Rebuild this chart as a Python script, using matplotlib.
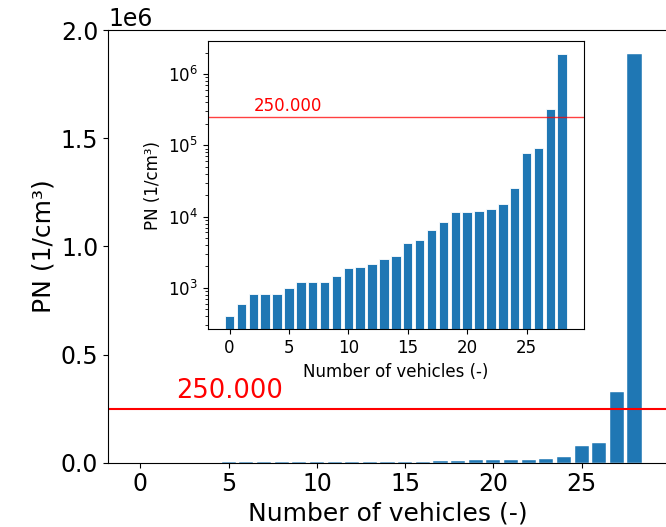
import matplotlib
matplotlib.use('Agg')
import matplotlib.pyplot as plt

# numero de vehiculos y concentracion de particulas (PN)
vehicles = list(range(29))
pn = [400, 600, 810, 810, 810, 1000, 1200, 1200, 1200, 1470,
      1900, 1990, 2190, 2520, 2780, 4230, 4760, 6430, 8330, 11500,
      11600, 11900, 12900, 14900, 25500, 78800, 90800, 326000, 1890000]
limit = 250000
limit_label = '250.000'
yticks_main = [0, 500000, 1000000, 1500000, 2000000]

fig = plt.figure(figsize=(6.66, 5.27), dpi=100)

# grafica principal (lineal)
ax = fig.add_axes([0.1622, 0.1220, 0.8393, 0.8210])
ax.bar(vehicles, pn, color='#1f77b4', edgecolor='white', linewidth=0.3)
ax.axhline(limit, color='red', linewidth=1.5)
ax.text(2, 300000, limit_label, color='red', fontsize=18.5)
ax.set_ylim(0, 2000000)
ax.set_yticks(yticks_main)
ax.set_xlabel('Number of vehicles (-)', fontsize=18)
ax.set_ylabel('PN (1/cm³)', fontsize=18)
ax.tick_params(labelsize=17)
ax.yaxis.get_offset_text().set_fontsize(17)

# grafica pequeña (logaritmica)
ax2 = fig.add_axes([0.3119, 0.3751, 0.5650, 0.5465])
ax2.bar(vehicles, pn, color='#1f77b4', edgecolor='white', linewidth=0.6)
ax2.set_yscale('log')
ax2.axhline(limit, color='red', linewidth=1, alpha=0.75)
ax2.text(2, 300000, limit_label, color='red', fontsize=12)
ax2.set_xlabel('Number of vehicles (-)', fontsize=12)
ax2.set_ylabel('PN (1/cm³)', fontsize=12)
ax2.tick_params(labelsize=12)

fig.savefig('out.png', dpi=100)
